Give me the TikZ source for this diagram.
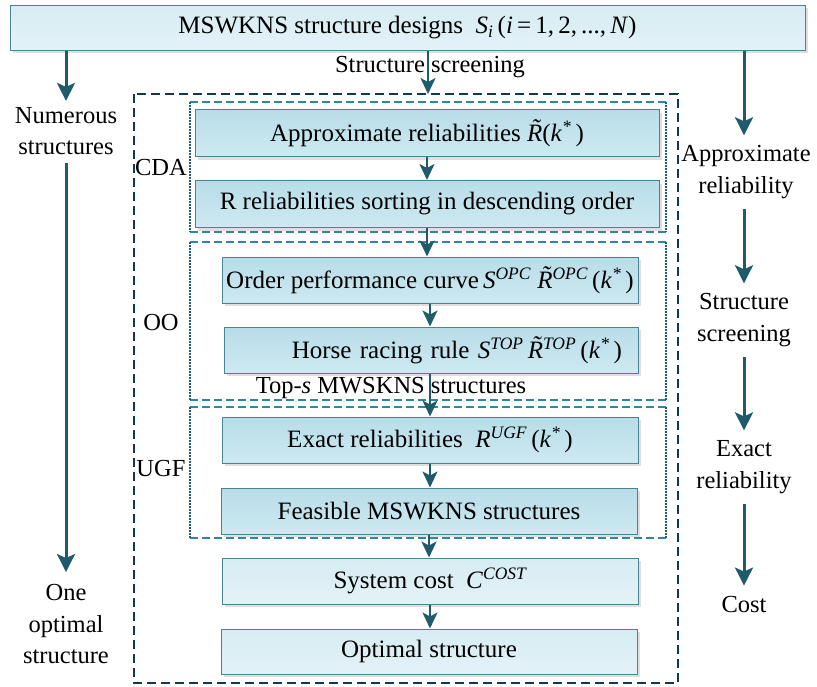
\documentclass[tikz,border=0pt]{standalone}
\usepackage{fontspec}
\setmainfont{Liberation Serif}
\usetikzlibrary{arrows.meta, shadows}

\definecolor{flowteal}{RGB}{31,91,107}
\definecolor{framedark}{RGB}{16,58,74}
\definecolor{grpteal}{RGB}{46,135,160}
\definecolor{boxedge}{RGB}{72,132,147}
\definecolor{boxtop}{RGB}{184,221,232}
\definecolor{boxbot}{RGB}{206,233,241}
\definecolor{paletop}{RGB}{214,236,243}
\definecolor{palebot}{RGB}{228,242,247}

\newcommand{\vi}[1]{\textit{#1}}
\newcommand{\upidx}[1]{\textsuperscript{\itshape #1}}
\newcommand{\tilR}{\textit{R\llap{\raisebox{0.2em}{\char"02DC}\kern0.1em}}}

\tikzset{
  stagebox/.style={draw=boxedge, line width=1pt, top color=boxtop, bottom color=boxbot,
    minimum height=46pt, inner sep=0pt, font=\fontsize{25}{30}\selectfont,
    drop shadow={shadow xshift=3pt, shadow yshift=-3pt, opacity=0.25, fill=gray}},
  palebox/.style={stagebox, top color=paletop, bottom color=palebot},
  flow/.style={flowteal, line width=2pt, -{Stealth[width=15pt,length=16pt,inset=4pt]}},
  sideflow/.style={flowteal, line width=3pt, -{Stealth[width=18pt,length=18pt,inset=4pt]}},
  sidetext/.style={font=\fontsize{24.5}{31.5}\selectfont, align=center, inner sep=0pt},
  grplabel/.style={font=\fontsize{24.5}{30}\selectfont, inner sep=0pt},
  outerdash/.style={framedark, line width=2.6pt, dash pattern=on 9pt off 5pt},
  grpdash/.style={grpteal, line width=1.3pt, dash pattern=on 8pt off 4pt},
  grpdot/.style={grpteal!70!black, line width=2pt, dash pattern=on 1.6pt off 1.4pt}
}

\begin{document}
\begin{tikzpicture}[x=1pt, y=-1pt]
\useasboundingbox (0,0) rectangle (817,686);

% top input
\node[palebox, minimum width=795pt, minimum height=45pt] (designs) at (407.5,27.5)
  {MSWKNS structure designs \ \vi{S}\textsubscript{\vi{i}}\,(\vi{i}\,=\,1,\,2,\,...,\,\vi{N})};
\node[grplabel] (screenlbl) at (430,67) {Structure screening};

% outer frame and method groups
\draw[outerdash] (134,94) rectangle (678,683);
\coordinate (frametop) at (428,94);
\draw[grpdash] (190,102) -- (666,102) (190,232) -- (666,232);
\draw[grpdot] (190,102) -- (190,232) (666,102) -- (666,232);
\draw[grpdash] (190,242) -- (666,242) (190,400) -- (666,400);
\draw[grpdot] (190,242) -- (190,400) (666,242) -- (666,400);
\draw[grpdash] (190,407) -- (666,407) (190,538) -- (666,538);
\draw[grpdot] (190,407) -- (190,538) (666,407) -- (666,538);
\node[grplabel] (cda) at (161,168) {CDA};
\node[grplabel] (oo) at (161,323) {OO};
\node[grplabel] (ugf) at (161,469) {UGF};

% stages
\node[stagebox, minimum width=464pt, minimum height=47pt] (approx) at (427,133)
  {Approximate reliabilities \tilR(\vi{k}\upidx{*}\,)};
\node[stagebox, minimum width=464pt, minimum height=47pt] (sorting) at (427,204)
  {R reliabilities sorting in descending order};
\node[stagebox, minimum width=416pt] (opc) at (430,280)
  {Order performance curve\,\vi{S}\upidx{OPC} \tilR\upidx{OPC}\,(\vi{k}\upidx{*}\,)};
\node[stagebox, minimum width=414pt, text width=382pt, align=right] (horse) at (431,350)
  {Horse racing rule \vi{S}\upidx{TOP}\,\tilR\upidx{TOP}\,(\vi{k}\upidx{*}\,)};
\node[grplabel] (topset) at (391,388) {Top-\vi{s} MWSKNS structures};
\node[stagebox, minimum width=416pt] (exactrel) at (430,440)
  {Exact reliabilities \ \vi{R}\upidx{UGF}\,(\vi{k}\upidx{*}\,)};
\node[stagebox, minimum width=416pt] (feasible) at (429,511)
  {Feasible MSWKNS structures};
\node[palebox, minimum width=416pt] (cost) at (430,581)
  {System cost \ \vi{C}\upidx{COST}};
\node[palebox, minimum width=416pt, minimum height=45pt] (optimal) at (429,651.5)
  {Optimal structure};

% side columns
\node[sidetext] (numerous) at (66,131) {Numerous\\structures};
\node[sidetext] (oneopt) at (66,624) {One\\optimal\\structure};
\node[sidetext] (apprxrel) at (746,172) {Approximate\\reliability};
\node[sidetext] (scrnrel) at (744,320) {Structure\\screening};
\node[sidetext] (exactside) at (744,467) {Exact\\reliability};
\node[sidetext] (costside) at (744,604) {Cost};

% flow arrows
\draw[flow] (designs.south -| frametop) -- (frametop);
\draw[flow] (approx.south) -- (approx.south |- sorting.north);
\draw[flow] (sorting.south) -- (sorting.south |- opc.north);
\draw[flow] (opc.south) -- (opc.south |- horse.north);
\draw[flow] (horse.south -| opc.south) -- (exactrel.north -| opc.south);
\draw[flow] (exactrel.south) -- (exactrel.south |- feasible.north);
\draw[flow] (feasible.south) -- (feasible.south |- cost.north);
\draw[flow] (cost.south) -- (cost.south |- optimal.north);

\draw[sideflow, shorten >=6pt] (designs.south -| numerous) -- (numerous.north);
\draw[sideflow, shorten <=8pt, shorten >=12pt] (numerous.south) -- (oneopt.north);
\draw[sideflow, shorten >=10pt] (designs.south -| scrnrel) -- (scrnrel.north |- apprxrel.north);
\draw[sideflow, shorten <=10pt, shorten >=10pt] (apprxrel.south -| scrnrel) -- (scrnrel.north);
\draw[sideflow, shorten <=10pt, shorten >=10pt] (scrnrel.south) -- (exactside.north);
\draw[sideflow, shorten <=10pt, shorten >=10pt] (exactside.south) -- (costside.north);
\end{tikzpicture}
\end{document}
